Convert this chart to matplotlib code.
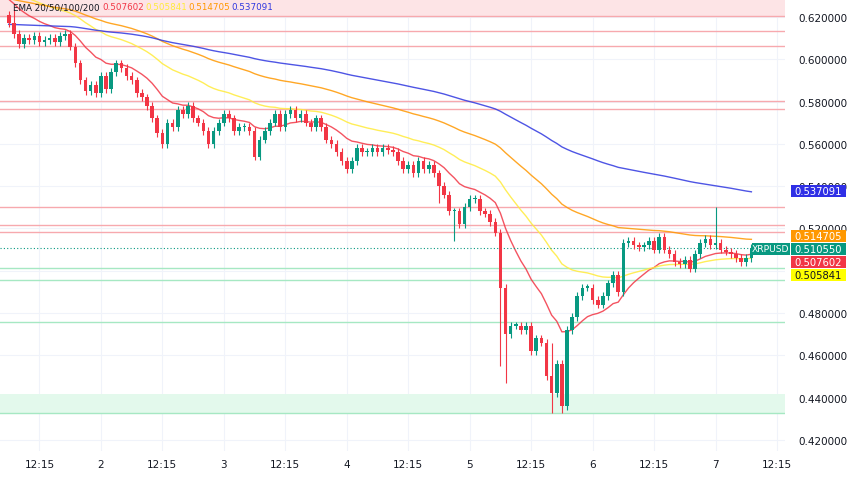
import matplotlib
matplotlib.use("Agg")
import matplotlib.pyplot as plt
import numpy as np

start_hour = -18
closes = [0.617,0.612,0.607,0.610,0.609,0.611,0.608,0.609,0.610,0.608,0.611,0.612,
          0.606,0.598,0.590,0.585,0.588,0.584,0.592,0.586,0.594,0.598,0.596,0.592,
          0.590,0.584,0.582,0.578,0.572,0.565,0.560,0.570,0.568,0.576,0.574,0.578,
          0.572,0.570,0.566,0.560,0.566,0.570,0.574,0.572,0.566,0.568,0.568,0.566,
          0.554,0.562,0.566,0.570,0.574,0.568,0.574,0.576,0.572,0.574,0.570,0.568,
          0.572,0.568,0.562,0.560,0.556,0.552,0.548,0.552,0.558,0.556,0.556,0.558,
          0.556,0.558,0.557,0.556,0.552,0.548,0.550,0.546,0.552,0.548,0.550,0.546,
          0.540,0.536,0.528,0.528,0.522,0.530,0.534,0.534,0.528,0.527,0.523,0.518,
          0.492,0.470,0.474,0.474,0.472,0.474,0.462,0.468,0.466,0.450,0.442,0.456,
          0.436,0.472,0.478,0.488,0.492,0.492,0.486,0.484,0.488,0.494,0.498,0.490,
          0.513,0.514,0.512,0.511,0.512,0.514,0.510,0.516,0.510,0.508,0.504,0.503,
          0.505,0.501,0.508,0.513,0.515,0.512,0.513,0.510,0.509,0.508,0.506,0.504,
          0.506,0.5106]
first_open = 0.621
special_highs = {120: 0.530, -17: 0.624, 88: 0.466}
special_lows = {79: 0.4467, 88: 0.4328, 78: 0.455, 90: 0.4328, 66: 0.532, 69: 0.514}
ema_periods = [20, 50, 100, 200]
ema_seeds = {20: 0.630, 50: 0.634, 100: 0.629, 200: 0.6165}
ema_colors = {20: "#f23645", 50: "#ffeb3b", 100: "#ff9800", 200: "#2f37e0"}
ema_last = {20: 0.507602, 50: 0.505841, 100: 0.514705, 200: 0.537091}
last_price = 0.510550
red_levels = [0.6205, 0.6134, 0.6063, 0.5803, 0.5765, 0.5302, 0.5217, 0.5183]
green_levels = [0.5013, 0.4957, 0.4758, 0.4328]
green_band = (0.4328, 0.4418)
red_band = (0.6205, 0.6290)
price_ticks = [0.42, 0.44, 0.46, 0.48, 0.50, 0.52, 0.54, 0.56, 0.58, 0.60, 0.62]
hidden_ticks = [0.50]
time_ticks = [-12, 0, 12, 24, 36, 48, 60, 72, 84, 96, 108, 120, 132]
time_labels = ["12:15", "2", "12:15", "3", "12:15", "4", "12:15", "5", "12:15", "6", "12:15", "7", "12:15"]

hours = np.arange(start_hour, start_hour + len(closes))
opens = [first_open] + closes[:-1]

W, H = 852, 485
fig = plt.figure(figsize=(W / 100, H / 100), dpi=100)
ax = fig.add_axes([0.0, 0.068, 0.921, 0.932])
ax.set_xlim(-19.7, 133.5)
ax.set_ylim(0.4147, 0.6285)

for t in time_ticks:
    ax.axvline(t, color="#f0f3fa", lw=0.8, zorder=0)
for p in price_ticks:
    ax.axhline(p, color="#f0f3fa", lw=0.8, zorder=0)

ax.axhspan(*red_band, color="#fde4e6", zorder=0.5, lw=0)
ax.axhspan(*green_band, color="#e3f9ec", zorder=0.5, lw=0)
for p in red_levels:
    ax.axhline(p, color="#f7a9ae", lw=1.0, zorder=1)
for p in green_levels:
    ax.axhline(p, color="#a6e8c3", lw=1.0, zorder=1)

up, dn = "#089981", "#f23645"
for h, o, c in zip(hours, opens, closes):
    col = up if c >= o else dn
    hi = special_highs.get(h, max(o, c) + 0.0018)
    lo = special_lows.get(h, min(o, c) - 0.0018)
    ax.vlines(h, lo, hi, color=col, lw=0.8, zorder=3)
    bot = min(o, c); height = max(abs(c - o), 0.0006)
    ax.bar(h, height, bottom=bot, width=0.7, color=col, zorder=4, lw=0)

for n in ema_periods:
    v = ema_seeds[n]
    a = 2 / (0.75 * n + 1)
    e = []
    for c in closes:
        v = v + a * (c - v)
        e.append(v)
    ax.plot(hours, e, color=ema_colors[n], lw=1.0, zorder=2, alpha=0.85)

ax.axhline(last_price, color="#089981", lw=0.8, ls=(0, (1, 2)), zorder=2)

ax.set_xticks(time_ticks)
ax.set_xticklabels(time_labels, fontsize=7.5, color="#131722")
ax.tick_params(axis="x", length=0, pad=6)
ax.yaxis.tick_right()
ax.set_yticks(price_ticks)
ax.set_yticklabels(["" if p in hidden_ticks else f"{p:.6f}" for p in price_ticks],
                   fontsize=7.5, color="#131722")
ax.tick_params(axis="y", length=0, pad=10)
for sp in ax.spines.values():
    sp.set_visible(False)

# right-side price boxes (pixel rows from the top)
boxes = [(ema_last[200], 192, "#2f2fe6", "white"), (ema_last[100], 237, "#ff9800", "white"),
         (last_price, 250, "#089981", "white"), (ema_last[20], 263, "#f23645", "white"),
         (ema_last[50], 276, "#ffff00", "#131722")]
for p, ypx, bg, fg in boxes:
    fy = 1 - ypx / H
    fig.patches.append(plt.Rectangle((791 / W, fy - 6 / H), 55 / W, 12 / H, transform=fig.transFigure,
                                     fc=bg, ec="none", zorder=10))
    fig.text(818 / W, fy, f"{p:.6f}", fontsize=7.2, color=fg, va="center", ha="center", zorder=11)
fy = 1 - 250 / H
fig.patches.append(plt.Rectangle((752 / W, fy - 6 / H), 38 / W, 12 / H, transform=fig.transFigure,
                                 fc="#089981", ec="none", zorder=10))
fig.text(770.5 / W, fy, "XRPUSD", fontsize=6.6, color="white", va="center", ha="center", zorder=11)

ly = 1 - 8 / H
fig.text(13 / W, ly, "EMA 20/50/100/200", fontsize=6.3, color="#131722", va="center")
xs = [102, 145, 188, 231]
for x, n in zip(xs, ema_periods):
    fig.text(x / W, ly, f"{ema_last[n]:.6f}", fontsize=6.3, color=ema_colors[n], va="center")

fig.savefig("out.png", dpi=100, facecolor="white")
